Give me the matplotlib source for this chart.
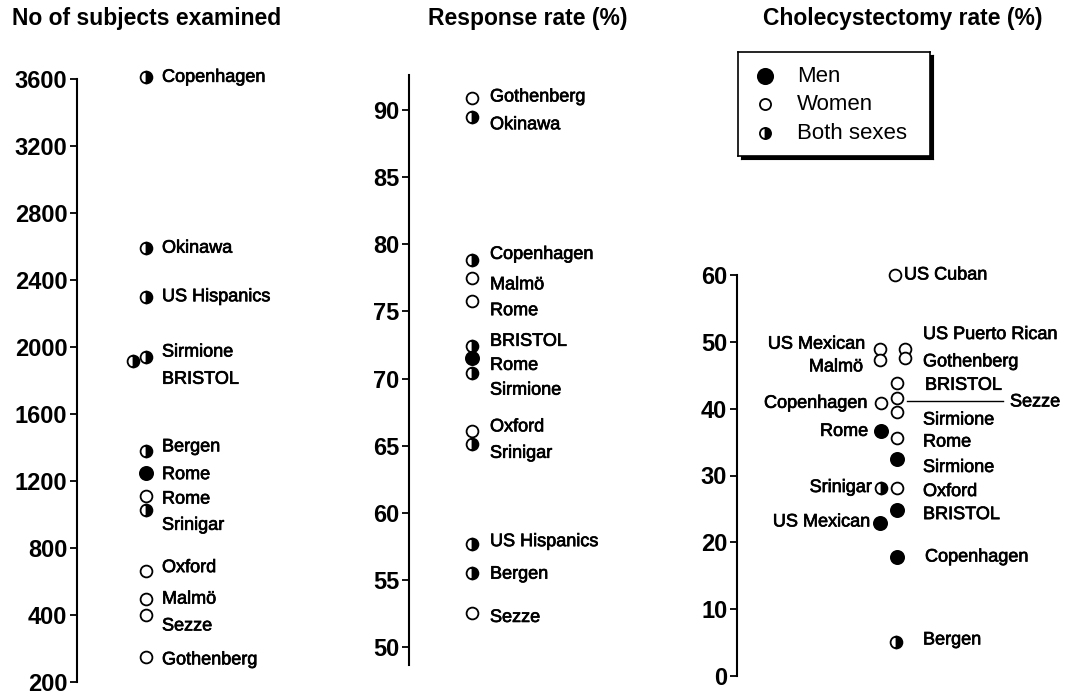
import matplotlib
matplotlib.use('Agg')
import matplotlib.pyplot as plt
import matplotlib.patheffects as pe

plt.rcParams['font.family'] = ['Liberation Sans', 'DejaVu Sans']

# No of subjects examined
n_names = ['Copenhagen', 'Okinawa', 'US Hispanics', 'Sirmione', 'BRISTOL', 'Bergen',
           'Rome', 'Rome', 'Srinigar', 'Oxford', 'Malmö', 'Sezze', 'Gothenberg']
n_values = [3610, 2590, 2300, 1940, 1915, 1380, 1250, 1110, 1025, 665, 495, 400, 150]
n_sex = ['both', 'both', 'both', 'both', 'both', 'both',
         'men', 'women', 'both', 'women', 'women', 'women', 'women']
n_ticks = [0, 400, 800, 1200, 1600, 2000, 2400, 2800, 3200, 3600]
n_ticklabels = ['200', '400', '800', '1200', '1600', '2000', '2400', '2800', '3200', '3600']

# Response rate (%)
r_names = ['Gothenberg', 'Okinawa', 'Copenhagen', 'Malmö', 'Rome', 'BRISTOL', 'Rome',
           'Sirmione', 'Oxford', 'Srinigar', 'US Hispanics', 'Bergen', 'Sezze']
r_values = [90.9, 89.5, 78.8, 77.5, 75.8, 72.4, 71.5, 70.4, 66.1, 65.1, 57.7, 55.5, 52.5]
r_sex = ['women', 'both', 'both', 'women', 'women', 'both', 'men',
         'both', 'women', 'both', 'both', 'both', 'women']
r_ticks = [50, 55, 60, 65, 70, 75, 80, 85, 90]

# Cholecystectomy rate (%)
c_names = ['US Cuban', 'US Mexican', 'Malmö', 'US Puerto Rican', 'Gothenberg', 'BRISTOL',
           'Sezze', 'Copenhagen', 'Sirmione', 'Rome', 'Rome', 'Sirmione', 'Srinigar',
           'Oxford', 'BRISTOL', 'US Mexican', 'Copenhagen', 'Bergen']
c_values = [60, 48.9, 47.3, 49.0, 47.6, 43.8, 41.6, 40.8, 39.5, 36.6, 35.6, 32.4, 28.2,
            28.2, 24.9, 22.9, 17.8, 5.1]
c_sex = ['women', 'women', 'women', 'women', 'women', 'women', 'women', 'women', 'women',
         'men', 'women', 'men', 'both', 'women', 'men', 'men', 'men', 'both']
c_ticks = [0, 10, 20, 30, 40, 50, 60]

# layout (pixels from each axis line)
n_col = [69, 69, 69, 69, 56, 69, 69, 69, 69, 69, 69, 69, 69]
n_label_dy = [0, 0, 0, -5, 18, -4, 2, 3, 15, -3, 0, 11, 3]
r_label_dy = [-1, 8, -6, 7, 10, -5, 7, 17, -4, 9, -2, 1, 4]
c_col = [158, 143, 143, 168, 168, 160, 160, 144, 160, 144, 160, 160, 144, 160, 160, 143, 160, 159]
c_side = ['r', 'l', 'l', 'r', 'r', 'r', 's', 'l', 'r', 'l', 'r', 'r', 'l', 'r', 'r', 'l', 'r', 'r']
c_label_x = [167, 128, 126, 186, 186, 188, 273, 130, 186, 131, 186, 186, 135, 186, 186, 133, 188, 186]
c_label_dy = [0, -5, 7, -14, 4, 2, 4, 0, 8, 0, 4, 8, 0, 4, 5, -1, 0, -2]

W, H = 1069, 697
fig = plt.figure(figsize=(W / 100, H / 100), dpi=100)

LABEL_SIZE = 13
TICK_SIZE = 17
heavy = [pe.withStroke(linewidth=0.5, foreground='black')]


def style(sex, ms=8.5):
    if sex == 'men':
        return dict(marker='o', ms=ms + 1, mfc='black', mec='black', mew=1.3)
    if sex == 'women':
        return dict(marker='o', ms=ms, mfc='white', mec='black', mew=1.3)
    return dict(marker='o', ms=ms, fillstyle='right', mfc='black', mfcalt='white',
                mec='black', mew=1.3)


def make_axes(left, top, bottom, width):
    ax = fig.add_axes([left / W, 1 - bottom / H, width / W, (bottom - top) / H])
    ax.set_xlim(0, width)
    for s in ['top', 'right', 'bottom']:
        ax.spines[s].set_visible(False)
    ax.spines['left'].set_linewidth(1.5)
    ax.tick_params(axis='y', direction='out', length=5, width=1.3, pad=2,
                   labelsize=TICK_SIZE)
    ax.set_xticks([])
    ax.patch.set_alpha(0)
    return ax


def label(ax, text, x, y, dy, ha='left'):
    ax.annotate(text, xy=(x, y), xytext=(0, -dy), textcoords='offset pixels',
                ha=ha, va='center', fontsize=LABEL_SIZE, annotation_clip=False,
                path_effects=heavy)


def set_ticks(ax, ticks, labels):
    ax.set_yticks(ticks)
    ax.set_yticklabels(labels, fontweight='bold')


# panel 1
ax1 = make_axes(77, 79, 682, 250)
ax1.set_ylim(0, 3600)
set_ticks(ax1, n_ticks, n_ticklabels)
for i, name in enumerate(n_names):
    ax1.plot(n_col[i], n_values[i], clip_on=False, **style(n_sex[i]))
    label(ax1, name, 85, n_values[i], n_label_dy[i])

# panel 2
ax2 = make_axes(409, 75, 665, 250)
ax2.set_ylim(48.66, 92.61)
set_ticks(ax2, r_ticks, [str(t) for t in r_ticks])
for i, name in enumerate(r_names):
    ax2.plot(63, r_values[i], clip_on=False, **style(r_sex[i]))
    label(ax2, name, 81, r_values[i], r_label_dy[i])

# panel 3
ax3 = make_axes(737, 275, 676, 330)
ax3.set_ylim(0, 60)
set_ticks(ax3, c_ticks, [str(t) for t in c_ticks])
for i, name in enumerate(c_names):
    ax3.plot(c_col[i], c_values[i], clip_on=False, **style(c_sex[i]))
    if c_side[i] == 'l':
        label(ax3, name, c_label_x[i], c_values[i], c_label_dy[i], ha='right')
    else:
        label(ax3, name, c_label_x[i], c_values[i], c_label_dy[i])
    if c_side[i] == 's':
        ax3.plot([c_col[i] + 10, 266], [c_values[i] - 0.5] * 2, color='black', lw=1,
                 clip_on=False)

# titles
for x, title in [(147, 'No of subjects examined'), (528, 'Response rate (%)'),
                 (903, 'Cholecystectomy rate (%)')]:
    fig.text(x / W, 1 - 19 / H, title, ha='center', va='center',
             fontsize=16.5, fontweight='bold')

# legend box with dark shadow
shadow = fig.add_axes([741 / W, 1 - 159 / H, 192 / W, 104 / H])
shadow.set_xticks([]); shadow.set_yticks([])
shadow.patch.set_facecolor('black')
leg = fig.add_axes([738 / W, 1 - 156 / H, 192 / W, 104 / H])
leg.set_xticks([]); leg.set_yticks([])
leg.set_xlim(738, 930)
leg.set_ylim(156, 52)
for s in leg.spines.values():
    s.set_linewidth(1.2)
for sex, text, y, ms in [('men', 'Men', 76, 10), ('women', 'Women', 104, 8),
                         ('both', 'Both sexes', 133, 8)]:
    leg.plot(765, y, **style(sex, ms))
    leg.text(797, y, text, va='center', ha='left', fontsize=16)

fig.savefig('out.png', dpi=100)
